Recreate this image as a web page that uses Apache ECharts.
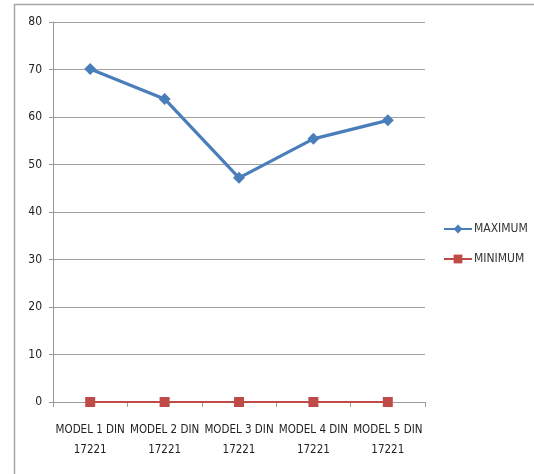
<!DOCTYPE html>
<html>
<head>
<meta charset="utf-8">
<script src="https://cdn.jsdelivr.net/npm/echarts@6/dist/echarts.min.js"></script>
<style>
html,body{margin:0;padding:0;background:#fff;}
#c{width:534px;height:474px;}
</style>
</head>
<body>
<div id="c"></div>
<script>
var categories = ['MODEL 1 DIN\n17221','MODEL 2 DIN\n17221','MODEL 3 DIN\n17221','MODEL 4 DIN\n17221','MODEL 5 DIN\n17221'];
var maximumValues = [70.1, 63.8, 47.2, 55.4, 59.3];
var minimumValues = [0, 0, 0, 0, 0];
var yTicks = {min: 0, max: 80, interval: 10};

var FONT = '"Liberation Sans Narrow", "DejaVu Sans Condensed", Arial, sans-serif';
var chart = echarts.init(document.getElementById('c'));
chart.setOption({
  animation: false,
  backgroundColor: '#fff',
  textStyle: {fontFamily: FONT},
  graphic: [{
    type: 'rect',
    shape: {x: 14.5, y: 4.5, width: 600, height: 600},
    style: {fill: 'none', stroke: '#a6a6a6', lineWidth: 1.5},
    silent: true, z: -1
  }],
  grid: {left: 53, right: 109, top: 22, bottom: 72},
  legend: {
    orient: 'vertical',
    left: 438,
    top: 218,
    itemWidth: 28,
    itemHeight: 11,
    itemGap: 18,
    textStyle: {fontFamily: FONT, fontSize: 12, color: '#333', padding: [0,0,0,-3]},
    data: ['MAXIMUM', 'MINIMUM']
  },
  xAxis: {
    type: 'category',
    data: categories,
    boundaryGap: true,
    axisLine: {lineStyle: {color: '#9a9a9a', width: 1}},
    axisTick: {show: true, length: 5, inside: false, lineStyle: {color: '#9a9a9a'}},
    axisLabel: {fontFamily: FONT, fontSize: 11.5, color: '#222', lineHeight: 20, margin: 18, interval: 0},
    splitLine: {show: false}
  },
  yAxis: {
    type: 'value',
    min: yTicks.min, max: yTicks.max, interval: yTicks.interval,
    axisLine: {show: true, lineStyle: {color: '#9a9a9a', width: 1}},
    axisTick: {show: true, length: 4, lineStyle: {color: '#9a9a9a'}},
    axisLabel: {fontFamily: FONT, fontSize: 12, color: '#222', margin: 11},
    splitLine: {show: true, lineStyle: {color: '#a0a0a0', width: 1.2}}
  },
  series: [
    {
      name: 'MAXIMUM',
      type: 'line',
      data: maximumValues,
      symbol: 'diamond',
      symbolSize: 12,
      itemStyle: {color: '#4a7ebb'},
      lineStyle: {color: '#4a7ebb', width: 3.2},
      z: 3
    },
    {
      name: 'MINIMUM',
      type: 'line',
      data: minimumValues,
      symbol: 'rect',
      symbolSize: 10,
      itemStyle: {color: '#be4b48'},
      lineStyle: {color: '#be4b48', width: 2},
      z: 4
    }
  ]
});
</script>
</body>
</html>
